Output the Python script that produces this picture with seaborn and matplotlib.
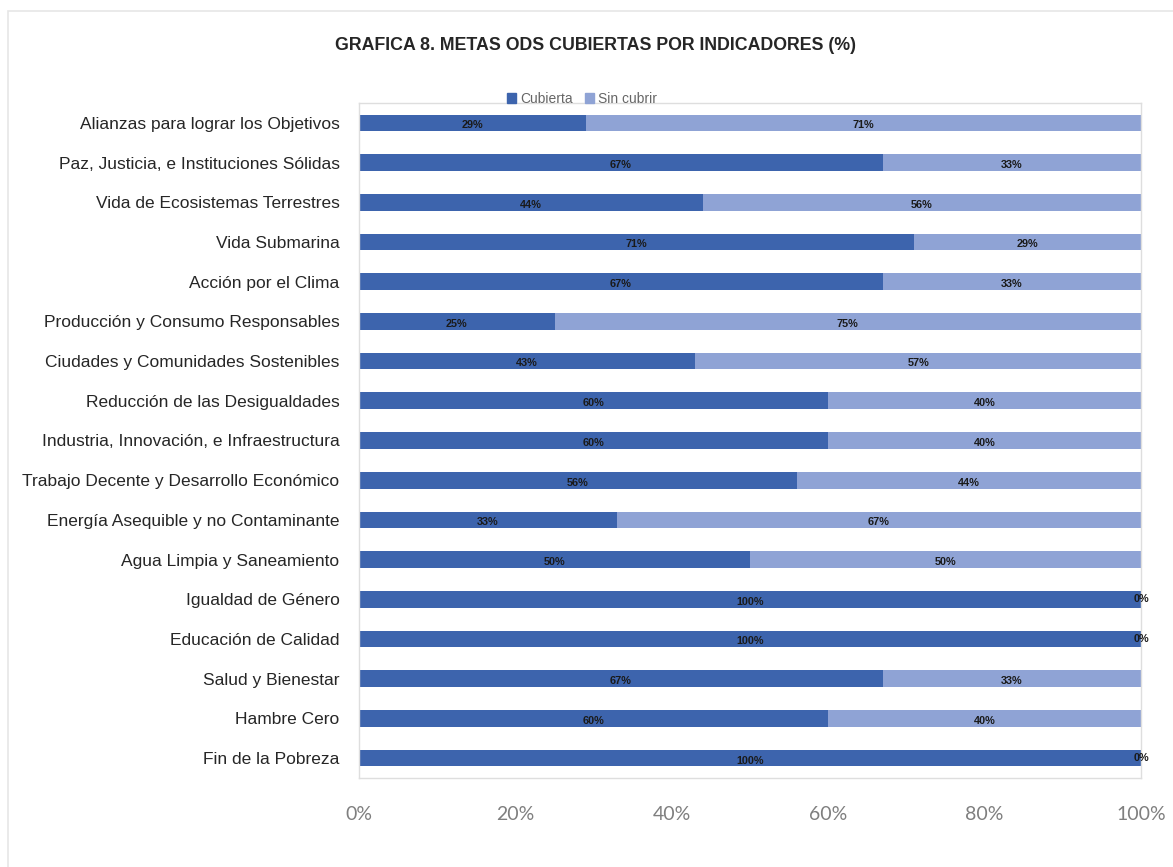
import matplotlib
matplotlib.use('Agg')
import matplotlib.pyplot as plt
import seaborn as sns
import pandas as pd
from matplotlib.patches import Rectangle, Patch

titulo = "GRAFICA 8. METAS ODS CUBIERTAS POR INDICADORES (%)"
categorias = [
    "Alianzas para lograr los Objetivos",
    "Paz, Justicia, e Instituciones Sólidas",
    "Vida de Ecosistemas Terrestres",
    "Vida Submarina",
    "Acción por el Clima",
    "Producción y Consumo Responsables",
    "Ciudades y Comunidades Sostenibles",
    "Reducción de las Desigualdades",
    "Industria, Innovación, e Infraestructura",
    "Trabajo Decente y Desarrollo Económico",
    "Energía Asequible y no Contaminante",
    "Agua Limpia y Saneamiento",
    "Igualdad de Género",
    "Educación de Calidad",
    "Salud y Bienestar",
    "Hambre Cero",
    "Fin de la Pobreza",
]
cubierta = [29, 67, 44, 71, 67, 25, 43, 60, 60, 56, 33, 50, 100, 100, 67, 60, 100]
sin_cubrir = [71, 33, 56, 29, 33, 75, 57, 40, 40, 44, 67, 50, 0, 0, 33, 40, 0]
series = ["Cubierta", "Sin cubrir"]
xticks = [0, 20, 40, 60, 80, 100]

dark = "#3D64AD"
light = "#8FA3D5"

sns.set_theme(style="white")
plt.rcParams['font.family'] = ['Liberation Sans Narrow', 'Liberation Sans', 'DejaVu Sans']

df = pd.DataFrame({"cat": categorias, "cub": cubierta, "sin": sin_cubrir})
df["total"] = df["cub"] + df["sin"]

fig = plt.figure(figsize=(11.73, 8.67), dpi=100)
ax = fig.add_axes([359 / 1173, 1 - 778 / 867, (1141 - 359) / 1173, 675 / 867])

sns.barplot(data=df, y="cat", x="total", color=light, width=0.42, ax=ax,
            orient="h", saturation=1, linewidth=0)
sns.barplot(data=df, y="cat", x="cub", color=dark, width=0.42, ax=ax,
            orient="h", saturation=1, linewidth=0)

for i, (c, s) in enumerate(zip(cubierta, sin_cubrir)):
    ax.text(c / 2, i + 0.06, f"{c}%", ha="center", va="center",
            fontsize=7.8, fontweight="bold", color="#1a1a1a")
    ax.text(c + s / 2, i + 0.06 if s else i, f"{s}%", ha="center", va="center",
            fontsize=7.8, fontweight="bold", color="#1a1a1a")

ax.set_xlim(0, 100)
ax.set_ylim(len(categorias) - 0.5, -0.5)
ax.set_xticks(xticks)
ax.set_xticklabels([f"{t}%" for t in xticks], fontfamily=["Lato", "DejaVu Sans"],
                   fontsize=14, color="#7f7f7f")
ax.set_xlabel("")
ax.set_ylabel("")
ax.tick_params(axis="x", length=0, pad=20)
ax.tick_params(axis="y", length=0, pad=14, labelsize=12.5, labelcolor="#262626")
for sp in ax.spines.values():
    sp.set_color("#dedede")
    sp.set_linewidth(1.0)

fig.text(0.508, 1 - 45 / 867, titulo, ha="center", va="center",
         fontsize=12.8, fontweight="bold", color="#262626")

handles = [Patch(color=dark), Patch(color=light)]
leg = fig.legend(handles, series, loc="center", bbox_to_anchor=(582 / 1173, 1 - 99 / 867),
                 ncol=2, frameon=False, handlelength=0.65, handleheight=0.65,
                 columnspacing=0.9, handletextpad=0.3, borderaxespad=0, borderpad=0,
                 prop={"family": ["Liberation Sans", "DejaVu Sans"], "size": 10})
for t in leg.get_texts():
    t.set_color("#666666")

fig.patches.append(Rectangle((8 / 1173, -0.1), 1.2, 1 - 11 / 867 + 0.1,
                             transform=fig.transFigure, fill=False,
                             edgecolor="#e6e6e6", linewidth=1.2))

fig.savefig("out.png", dpi=100)
